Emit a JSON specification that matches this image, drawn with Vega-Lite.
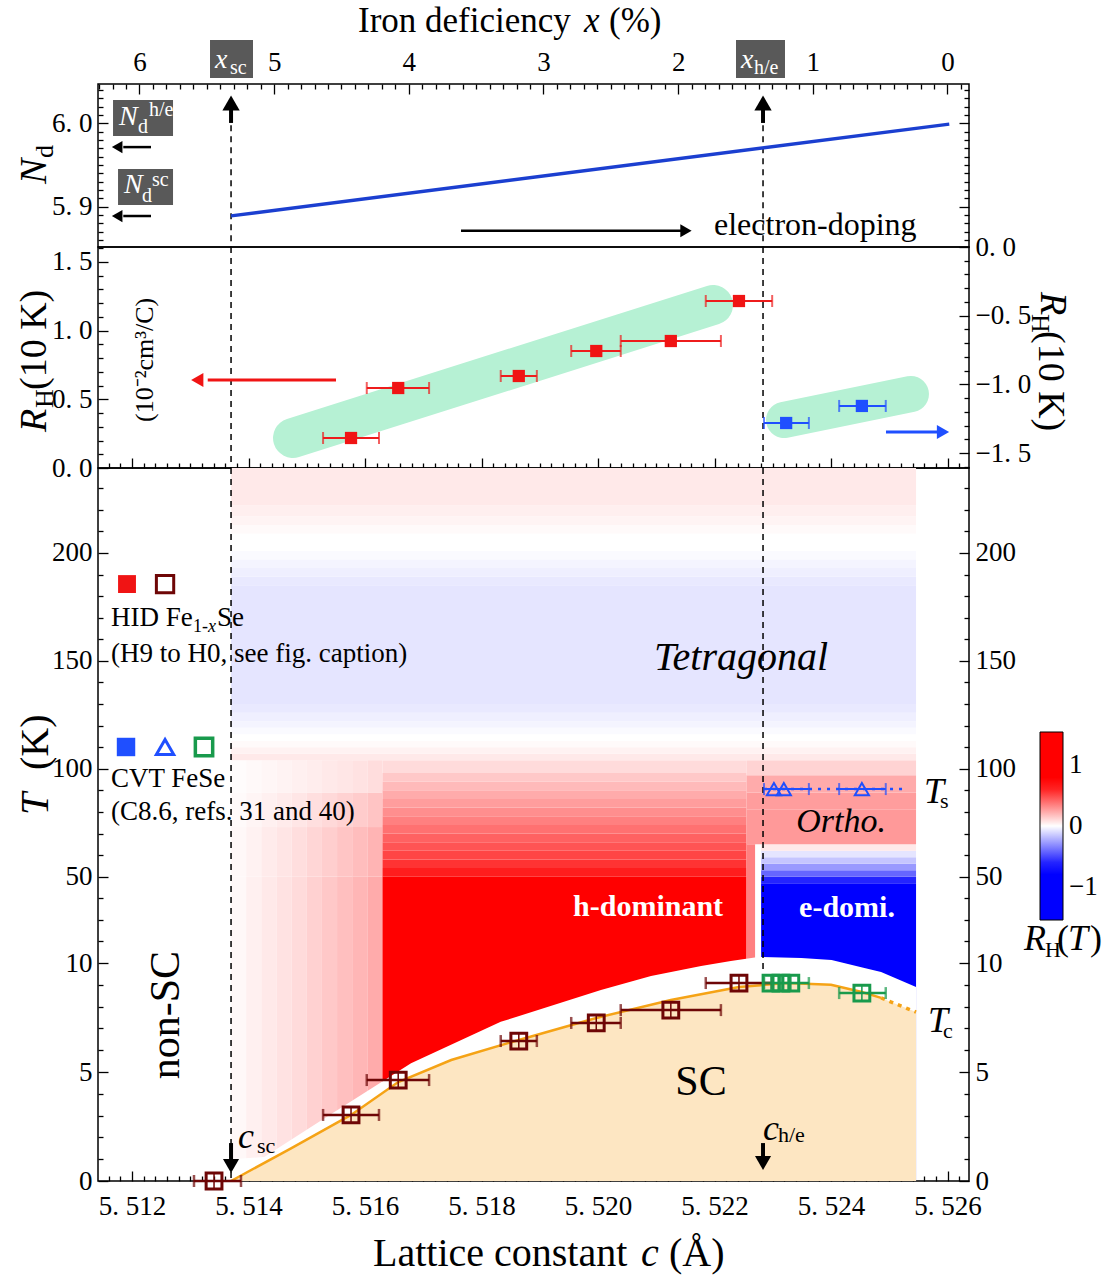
{
"$schema": "https://vega.github.io/schema/vega-lite/v6.json",
"background": "white",
"padding": {"left": 15, "top": 3, "right": 0, "bottom": 0},
"spacing": 0,
"bounds": "flush",
"config": {
  "view": {"stroke": "black", "strokeWidth": 1.5},
  "font": "Liberation Serif",
  "axis": {"domain": false, "grid": false, "labelFont": "Liberation Serif", "labelFontSize": 27, "labelColor": "black", "tickColor": "black", "tickWidth": 1.3, "labelOverlap": false, "labelBound": false, "labelFlush": false, "zindex": 1},
  "legend": {"gradientLength": 188, "gradientThickness": 23, "labelFontSize": 27, "labelFont": "Liberation Serif", "labelColor": "black", "gradientStrokeColor": "black", "gradientStrokeWidth": 1},
  "text": {"font": "Liberation Serif", "color": "black"}
},
"datasets": {
  "p1box": [{"c":5.511674,"c2":5.512704,"y":6.02794,"y2":5.98477},{"c":5.51176,"c2":5.512704,"y":5.9452,"y2":5.90204},{"c":5.513339,"c2":5.514077,"y":6.09988,"y2":6.05432},{"c":5.522369,"c2":5.52321,"y":6.09988,"y2":6.05432}],
  "p2red": [{"c":5.51576,"lo":5.51528,"hi":5.51624,"r":0.2182},{"c":5.51657,"lo":5.51603,"hi":5.5171,"r":0.5818},{"c":5.51864,"lo":5.51833,"hi":5.51895,"r":0.6691},{"c":5.51997,"lo":5.51954,"hi":5.52039,"r":0.8509},{"c":5.52125,"lo":5.52039,"hi":5.52211,"r":0.9236},{"c":5.52242,"lo":5.52185,"hi":5.52299,"r":1.2145}],
  "p2blue": [{"c":5.52323,"lo":5.52285,"hi":5.52362,"r":-1.28},{"c":5.52453,"lo":5.52414,"hi":5.52494,"r":-1.156}],
  "hm": [
    {"c":5.5137,"c2":5.51396,"t":0,"t2":50,"v":0.02},{"c":5.51396,"c2":5.51422,"t":0,"t2":50,"v":0.04},{"c":5.51422,"c2":5.51448,"t":0,"t2":50,"v":0.06},{"c":5.51448,"c2":5.51474,"t":0,"t2":50,"v":0.08},{"c":5.51474,"c2":5.515,"t":0,"t2":50,"v":0.1},{"c":5.515,"c2":5.51526,"t":0,"t2":50,"v":0.125},{"c":5.51526,"c2":5.51552,"t":0,"t2":50,"v":0.15},{"c":5.51552,"c2":5.51578,"t":0,"t2":50,"v":0.175},{"c":5.51578,"c2":5.51604,"t":0,"t2":50,"v":0.2},{"c":5.51604,"c2":5.5163,"t":0,"t2":50,"v":0.23},
    {"c":5.5137,"c2":5.51396,"t":50,"t2":73,"v":0.018},{"c":5.51396,"c2":5.51422,"t":50,"t2":73,"v":0.036},{"c":5.51422,"c2":5.51448,"t":50,"t2":73,"v":0.054},{"c":5.51448,"c2":5.51474,"t":50,"t2":73,"v":0.072},{"c":5.51474,"c2":5.515,"t":50,"t2":73,"v":0.09},{"c":5.515,"c2":5.51526,"t":50,"t2":73,"v":0.113},{"c":5.51526,"c2":5.51552,"t":50,"t2":73,"v":0.135},{"c":5.51552,"c2":5.51578,"t":50,"t2":73,"v":0.158},{"c":5.51578,"c2":5.51604,"t":50,"t2":73,"v":0.18},{"c":5.51604,"c2":5.5163,"t":50,"t2":73,"v":0.207},
    {"c":5.5137,"c2":5.51396,"t":73,"t2":89,"v":0.014},{"c":5.51396,"c2":5.51422,"t":73,"t2":89,"v":0.028},{"c":5.51422,"c2":5.51448,"t":73,"t2":89,"v":0.042},{"c":5.51448,"c2":5.51474,"t":73,"t2":89,"v":0.056},{"c":5.51474,"c2":5.515,"t":73,"t2":89,"v":0.07},{"c":5.515,"c2":5.51526,"t":73,"t2":89,"v":0.088},{"c":5.51526,"c2":5.51552,"t":73,"t2":89,"v":0.105},{"c":5.51552,"c2":5.51578,"t":73,"t2":89,"v":0.123},{"c":5.51578,"c2":5.51604,"t":73,"t2":89,"v":0.14},{"c":5.51604,"c2":5.5163,"t":73,"t2":89,"v":0.161},
    {"c":5.5137,"c2":5.51396,"t":89,"t2":104,"v":0.008},{"c":5.51396,"c2":5.51422,"t":89,"t2":104,"v":0.016},{"c":5.51422,"c2":5.51448,"t":89,"t2":104,"v":0.024},{"c":5.51448,"c2":5.51474,"t":89,"t2":104,"v":0.032},{"c":5.51474,"c2":5.515,"t":89,"t2":104,"v":0.04},{"c":5.515,"c2":5.51526,"t":89,"t2":104,"v":0.05},{"c":5.51526,"c2":5.51552,"t":89,"t2":104,"v":0.06},{"c":5.51552,"c2":5.51578,"t":89,"t2":104,"v":0.07},{"c":5.51578,"c2":5.51604,"t":89,"t2":104,"v":0.08},{"c":5.51604,"c2":5.5163,"t":89,"t2":104,"v":0.092},
    {"c":5.5163,"c2":5.52255,"t":0,"t2":50,"v":1.0},{"c":5.5163,"c2":5.52255,"t":50,"t2":54,"v":0.62},{"c":5.5163,"c2":5.52255,"t":54,"t2":58,"v":0.56},{"c":5.5163,"c2":5.52255,"t":58,"t2":62,"v":0.51},{"c":5.5163,"c2":5.52255,"t":62,"t2":66,"v":0.47},{"c":5.5163,"c2":5.52255,"t":66,"t2":70,"v":0.43},{"c":5.5163,"c2":5.52255,"t":70,"t2":74,"v":0.39},{"c":5.5163,"c2":5.52255,"t":74,"t2":78,"v":0.35},{"c":5.5163,"c2":5.52255,"t":78,"t2":82,"v":0.31},{"c":5.5163,"c2":5.52255,"t":82,"t2":86,"v":0.27},{"c":5.5163,"c2":5.52255,"t":86,"t2":90,"v":0.23},{"c":5.5163,"c2":5.52255,"t":90,"t2":94,"v":0.19},{"c":5.5163,"c2":5.52255,"t":94,"t2":98,"v":0.15},{"c":5.5163,"c2":5.52255,"t":98,"t2":104,"v":0.1},
    {"c":5.52255,"c2":5.5227,"t":0,"t2":65,"v":0.35},
    {"c":5.5227,"c2":5.5228,"t":0,"t2":65,"v":0.0},
    {"c":5.5228,"c2":5.52546,"t":0,"t2":47,"v":-1.5},{"c":5.5228,"c2":5.52546,"t":47,"t2":50,"v":-0.6},{"c":5.5228,"c2":5.52546,"t":50,"t2":53,"v":-0.42},{"c":5.5228,"c2":5.52546,"t":53,"t2":56,"v":-0.28},{"c":5.5228,"c2":5.52546,"t":56,"t2":59,"v":-0.16},{"c":5.5228,"c2":5.52546,"t":59,"t2":62,"v":-0.07},{"c":5.5228,"c2":5.52546,"t":62,"t2":65,"v":0.06},
    {"c":5.52255,"c2":5.52546,"t":65,"t2":73,"v":0.28},{"c":5.52255,"c2":5.52546,"t":73,"t2":81,"v":0.28},{"c":5.52255,"c2":5.52546,"t":81,"t2":89,"v":0.27},{"c":5.52255,"c2":5.52546,"t":89,"t2":97,"v":0.23},{"c":5.52255,"c2":5.52546,"t":97,"t2":104,"v":0.12},
    {"c":5.5137,"c2":5.52546,"t":104,"t2":107,"v":0.06},{"c":5.5137,"c2":5.52546,"t":107,"t2":110,"v":0.035},{"c":5.5137,"c2":5.52546,"t":110,"t2":113,"v":0.015},{"c":5.5137,"c2":5.52546,"t":113,"t2":116,"v":0.0},{"c":5.5137,"c2":5.52546,"t":116,"t2":119,"v":-0.015},{"c":5.5137,"c2":5.52546,"t":119,"t2":122,"v":-0.03},{"c":5.5137,"c2":5.52546,"t":122,"t2":126,"v":-0.045},{"c":5.5137,"c2":5.52546,"t":126,"t2":130,"v":-0.06},{"c":5.5137,"c2":5.52546,"t":130,"t2":185,"v":-0.07},{"c":5.5137,"c2":5.52546,"t":185,"t2":189,"v":-0.06},{"c":5.5137,"c2":5.52546,"t":189,"t2":193,"v":-0.045},{"c":5.5137,"c2":5.52546,"t":193,"t2":197,"v":-0.03},{"c":5.5137,"c2":5.52546,"t":197,"t2":201,"v":-0.015},{"c":5.5137,"c2":5.52546,"t":201,"t2":209,"v":0.0},{"c":5.5137,"c2":5.52546,"t":209,"t2":213,"v":0.015},{"c":5.5137,"c2":5.52546,"t":213,"t2":217,"v":0.03},{"c":5.5137,"c2":5.52546,"t":217,"t2":222,"v":0.045},{"c":5.5137,"c2":5.52546,"t":222,"t2":239.38,"v":0.06}
  ],
  "tb": [{"c":5.5137,"t":1.0},{"c":5.51427,"t":1.1},{"c":5.51542,"t":3.07},{"c":5.51679,"t":5.4},{"c":5.51833,"t":7.3},{"c":5.52005,"t":8.76},{"c":5.52091,"t":9.4},{"c":5.52177,"t":9.86},{"c":5.52228,"t":10.9},{"c":5.52275,"t":12.8},{"c":5.52349,"t":12.3},{"c":5.52401,"t":11.4},{"c":5.52452,"t":9.8},{"c":5.52486,"t":9.59},{"c":5.52546,"t":8.9}],
  "tc": [{"c":5.5137,"t":0},{"c":5.51473,"t":1.5},{"c":5.51576,"t":3.03},{"c":5.51657,"t":4.54},{"c":5.51748,"t":5.55},{"c":5.51864,"t":6.47},{"c":5.51997,"t":7.48},{"c":5.52125,"t":8.3},{"c":5.52242,"t":8.9},{"c":5.52323,"t":9.08},{"c":5.524,"t":9.0},{"c":5.52453,"t":8.67},{"c":5.52486,"t":8.4},{"c":5.52546,"t":7.75}],
  "hid": [{"c":5.513408,"lo":5.513064,"hi":5.513871,"t":0},{"c":5.51576,"lo":5.51528,"hi":5.51624,"t":3.03},{"c":5.51657,"lo":5.51603,"hi":5.5171,"t":4.63},{"c":5.51864,"lo":5.51833,"hi":5.51895,"t":6.42},{"c":5.51997,"lo":5.51954,"hi":5.52039,"t":7.25},{"c":5.52125,"lo":5.52039,"hi":5.52211,"t":7.84},{"c":5.52242,"lo":5.52185,"hi":5.52299,"t":9.08}],
  "greenbar": [{"lo":5.52285,"hi":5.52362,"t":9.08},{"lo":5.52414,"hi":5.52494,"t":8.62}],
  "greenpt": [{"c":5.52297,"t":9.08},{"c":5.52314,"t":9.08},{"c":5.52331,"t":9.08},{"c":5.52453,"t":8.62}],
  "tsbar": [{"lo":5.52285,"hi":5.52362,"t":90.6},{"lo":5.52414,"hi":5.52494,"t":90.6}],
  "tspt": [{"c":5.52302,"t":90.6},{"c":5.52319,"t":90.6},{"c":5.52453,"t":90.6}]
},
"vconcat": [
{
  "width": 871, "height": 163,
  "layer": [
    {"data": {"name": "p1box"}, "mark": {"type": "rect", "fill": "#595959", "clip": false},
     "encoding": {"x": {"field": "c", "type": "quantitative", "scale": {"domain": [5.511416, 5.526369], "nice": false, "zero": false}, "axis": null}, "x2": {"field": "c2"},
       "y": {"field": "y", "type": "quantitative", "scale": {"domain": [5.8517, 6.0471], "nice": false, "zero": false},
         "axis": {"orient": "left", "values": [5.86,5.87,5.88,5.89,5.9,5.91,5.92,5.93,5.94,5.95,5.96,5.97,5.98,5.99,6,6.01,6.02,6.03,6.04], "labelExpr": "abs(datum.value*10-round(datum.value*10))<0.01 ? replace(format(datum.value,'.1f'),'.','. ') : ''", "tickSize": {"condition": {"test": "abs(datum.value*10-round(datum.value*10))<0.01", "value": -10}, "value": -5}, "labelPadding": 16, "title": null}},
       "y2": {"field": "y2"}}},
    {"data": {"values": [{"c":5.5137,"y":5.9978,"y2":5.8517},{"c":5.522833,"y":5.9978,"y2":5.8517}]}, "mark": {"type": "rule", "strokeDash": [6,5], "strokeWidth": 1.5, "color": "black"},
     "encoding": {"x": {"field": "c", "type": "quantitative", "scale": {"domain": [5.511416, 5.526369], "nice": false, "zero": false}, "axis": null}, "y": {"field": "y", "type": "quantitative", "scale": {"domain": [5.8517, 6.0471], "nice": false, "zero": false}, "axis": null}, "y2": {"field": "y2"}}},
    {"data": {"values": [{"c":5.5137,"y":5.889},{"c":5.52603,"y":5.999}]}, "mark": {"type": "line", "color": "#1b3fd0", "strokeWidth": 3.5},
     "encoding": {"x": {"field": "c", "type": "quantitative", "scale": {"domain": [5.511416, 5.526369], "nice": false, "zero": false}, "axis": null}, "y": {"field": "y", "type": "quantitative", "scale": {"domain": [5.8517, 6.0471], "nice": false, "zero": false}, "axis": null}}},
    {"data": {"values": [{"c":5.5137,"y":6.0004,"y2":6.0184},{"c":5.522833,"y":6.0004,"y2":6.0184}]}, "mark": {"type": "rule", "strokeWidth": 4, "color": "black"},
     "encoding": {"x": {"field": "c", "type": "quantitative", "scale": {"domain": [5.511416, 5.526369], "nice": false, "zero": false}, "axis": null}, "y": {"field": "y", "type": "quantitative", "scale": {"domain": [5.8517, 6.0471], "nice": false, "zero": false}, "axis": null}, "y2": {"field": "y2"}}},
    {"data": {"values": [{"c":5.5137,"y":6.0242},{"c":5.522833,"y":6.0242}]}, "mark": {"type": "point", "shape": "triangle-up", "filled": true, "opacity": 1, "color": "black", "size": 300},
     "encoding": {"x": {"field": "c", "type": "quantitative", "scale": {"domain": [5.511416, 5.526369], "nice": false, "zero": false}, "axis": null}, "y": {"field": "y", "type": "quantitative", "scale": {"domain": [5.8517, 6.0471], "nice": false, "zero": false}, "axis": null}}},
    {"data": {"values": [{"c":5.512326,"c2":5.51185,"y":5.97146},{"c":5.512326,"c2":5.51185,"y":5.88885},{"c":5.517648,"c2":5.521425,"y":5.87122}]}, "mark": {"type": "rule", "strokeWidth": 2.5, "color": "black"},
     "encoding": {"x": {"field": "c", "type": "quantitative", "scale": {"domain": [5.511416, 5.526369], "nice": false, "zero": false}, "axis": null}, "x2": {"field": "c2"}, "y": {"field": "y", "type": "quantitative", "scale": {"domain": [5.8517, 6.0471], "nice": false, "zero": false}, "axis": null}}},
    {"data": {"values": [{"c":5.511745,"y":5.97146},{"c":5.511745,"y":5.88885}]}, "mark": {"type": "point", "shape": "triangle-left", "filled": true, "opacity": 1, "color": "black", "size": 150},
     "encoding": {"x": {"field": "c", "type": "quantitative", "scale": {"domain": [5.511416, 5.526369], "nice": false, "zero": false}, "axis": null}, "y": {"field": "y", "type": "quantitative", "scale": {"domain": [5.8517, 6.0471], "nice": false, "zero": false}, "axis": null}}},
    {"data": {"values": [{"c":5.52151,"y":5.87122}]}, "mark": {"type": "point", "shape": "triangle-right", "filled": true, "opacity": 1, "color": "black", "size": 170},
     "encoding": {"x": {"field": "c", "type": "quantitative", "scale": {"domain": [5.511416, 5.526369], "nice": false, "zero": false}, "axis": null}, "y": {"field": "y", "type": "quantitative", "scale": {"domain": [5.8517, 6.0471], "nice": false, "zero": false}, "axis": null}}},
    {"data": {"values": [{"c":5.51588,"y":6.10947,"s":"Iron deficiency"},{"c":5.520189,"y":6.10947,"s":"(%)"}]}, "mark": {"type": "text", "align": "left", "baseline": "alphabetic", "fontSize": 35, "clip": false},
     "encoding": {"x": {"field": "c", "type": "quantitative", "scale": {"domain": [5.511416, 5.526369], "nice": false, "zero": false}, "axis": null}, "y": {"field": "y", "type": "quantitative", "scale": {"domain": [5.8517, 6.0471], "nice": false, "zero": false}, "axis": null}, "text": {"field": "s"}}},
    {"data": {"values": [{"c":5.51976,"y":6.10947,"s":"x"}]}, "mark": {"type": "text", "align": "left", "baseline": "alphabetic", "fontSize": 35, "fontStyle": "italic", "clip": false},
     "encoding": {"x": {"field": "c", "type": "quantitative", "scale": {"domain": [5.511416, 5.526369], "nice": false, "zero": false}, "axis": null}, "y": {"field": "y", "type": "quantitative", "scale": {"domain": [5.8517, 6.0471], "nice": false, "zero": false}, "axis": null}, "text": {"field": "s"}}},
    {"data": {"values": [{"c":5.511777,"y":5.99796,"s":"N"},{"c":5.511863,"y":5.91643,"s":"N"},{"c":5.513425,"y":6.06631,"s":"x"},{"c":5.522455,"y":6.06631,"s":"x"}]}, "mark": {"type": "text", "align": "left", "baseline": "alphabetic", "fontSize": 28, "fontStyle": "italic", "color": "white", "clip": false},
     "encoding": {"x": {"field": "c", "type": "quantitative", "scale": {"domain": [5.511416, 5.526369], "nice": false, "zero": false}, "axis": null}, "y": {"field": "y", "type": "quantitative", "scale": {"domain": [5.8517, 6.0471], "nice": false, "zero": false}, "axis": null}, "text": {"field": "s"}}},
    {"data": {"values": [{"c":5.512103,"y":5.98837,"s":"d"},{"c":5.512292,"y":6.00875,"s":"h/e"},{"c":5.512172,"y":5.90564,"s":"d"},{"c":5.512343,"y":5.92482,"s":"sc"},{"c":5.513682,"y":6.05911,"s":"sc"},{"c":5.522678,"y":6.05911,"s":"h/e"}]}, "mark": {"type": "text", "align": "left", "baseline": "alphabetic", "fontSize": 20, "color": "white", "clip": false},
     "encoding": {"x": {"field": "c", "type": "quantitative", "scale": {"domain": [5.511416, 5.526369], "nice": false, "zero": false}, "axis": null}, "y": {"field": "y", "type": "quantitative", "scale": {"domain": [5.8517, 6.0471], "nice": false, "zero": false}, "axis": null}, "text": {"field": "s"}}},
    {"data": {"values": [{"c":5.521991,"y":5.86607,"s":"electron-doping"}]}, "mark": {"type": "text", "align": "left", "baseline": "alphabetic", "fontSize": 32, "clip": false},
     "encoding": {"x": {"field": "c", "type": "quantitative", "scale": {"domain": [5.511416, 5.526369], "nice": false, "zero": false}, "axis": null}, "y": {"field": "y", "type": "quantitative", "scale": {"domain": [5.8517, 6.0471], "nice": false, "zero": false}, "axis": null}, "text": {"field": "s"}}},
    {"data": {"values": [{"c":5.510524,"y":5.92722,"s":"N"}]}, "mark": {"type": "text", "align": "left", "baseline": "alphabetic", "angle": 270, "fontSize": 38, "fontStyle": "italic", "clip": false},
     "encoding": {"x": {"field": "c", "type": "quantitative", "scale": {"domain": [5.511416, 5.526369], "nice": false, "zero": false}, "axis": null}, "y": {"field": "y", "type": "quantitative", "scale": {"domain": [5.8517, 6.0471], "nice": false, "zero": false}, "axis": null}, "text": {"field": "s"}}},
    {"data": {"values": [{"c":5.510644,"y":5.9584,"s":"d"}]}, "mark": {"type": "text", "align": "left", "baseline": "alphabetic", "angle": 270, "fontSize": 26, "clip": false},
     "encoding": {"x": {"field": "c", "type": "quantitative", "scale": {"domain": [5.511416, 5.526369], "nice": false, "zero": false}, "axis": null}, "y": {"field": "y", "type": "quantitative", "scale": {"domain": [5.8517, 6.0471], "nice": false, "zero": false}, "axis": null}, "text": {"field": "s"}}},
    {"data": {"values": [{"y": 6.0}]}, "mark": {"type": "text", "text": ""},
     "encoding": {"y": {"field": "y", "type": "quantitative", "scale": {"domain": [5.8517, 6.0471], "nice": false, "zero": false},
       "axis": {"orient": "right", "values": [5.86,5.87,5.88,5.89,5.9,5.91,5.92,5.93,5.94,5.95,5.96,5.97,5.98,5.99,6,6.01,6.02,6.03,6.04], "labels": false, "tickSize": {"condition": {"test": "abs(datum.value*10-round(datum.value*10))<0.01", "value": -10}, "value": -5}, "title": null}}}},
    {"data": {"values": [{"p": 0}]}, "mark": {"type": "text", "text": ""},
     "encoding": {"x": {"field": "p", "type": "quantitative", "scale": {"domain": [6.308, -0.16], "nice": false, "zero": false},
       "axis": {"orient": "top", "tickCount": 65, "labelExpr": "abs(datum.value-round(datum.value))<0.01 ? format(round(datum.value),'d') : ''", "tickSize": {"condition": {"test": "abs(datum.value-round(datum.value))<0.01", "value": -10}, "value": -5}, "labelPadding": 18, "title": null}}}}
  ],
  "resolve": {"scale": {"x": "independent"}, "axis": {"x": "independent", "y": "independent"}}
},
{
  "width": 871, "height": 221,
  "layer": [
    {"data": {"values": [{"c":5.514764,"r":0.2182},{"c":5.521974,"r":1.1855}]}, "mark": {"type": "line", "color": "#b6f1d4", "strokeWidth": 40, "strokeCap": "round"},
     "encoding": {"x": {"field": "c", "type": "quantitative", "scale": {"domain": [5.511416, 5.526369], "nice": false, "zero": false},
         "axis": {"orient": "bottom", "tickCount": 75, "labels": false, "tickSize": {"condition": {"test": "abs(datum.value*500-round(datum.value*500))<0.01", "value": -10}, "value": -5}, "title": null}},
       "y": {"field": "r", "type": "quantitative", "scale": {"domain": [0, 1.6073], "nice": false, "zero": false},
         "axis": {"orient": "left", "values": [0,0.1,0.2,0.3,0.4,0.5,0.6,0.7,0.8,0.9,1,1.1,1.2,1.3,1.4,1.5,1.6], "labelExpr": "abs(datum.value*2-round(datum.value*2))<0.01 ? replace(format(datum.value,'.1f'),'.','. ') : ''", "tickSize": {"condition": {"test": "abs(datum.value*2-round(datum.value*2))<0.01", "value": -10}, "value": -5}, "labelPadding": 16, "title": null}}}},
    {"data": {"values": [{"c":5.5137},{"c":5.522833}]}, "mark": {"type": "rule", "strokeDash": [6,5], "strokeWidth": 1.5, "color": "black"},
     "encoding": {"x": {"field": "c", "type": "quantitative", "scale": {"domain": [5.511416, 5.526369], "nice": false, "zero": false}, "axis": null}}},
    {"data": {"name": "p2red"}, "mark": {"type": "rule", "color": "#ee1c1c", "strokeWidth": 2},
     "encoding": {"x": {"field": "lo", "type": "quantitative", "scale": {"domain": [5.511416, 5.526369], "nice": false, "zero": false}, "axis": null}, "x2": {"field": "hi"}, "y": {"field": "r", "type": "quantitative", "scale": {"domain": [0, 1.6073], "nice": false, "zero": false}, "axis": null}}},
    {"data": {"name": "p2red"}, "mark": {"type": "tick", "orient": "vertical", "size": 12, "thickness": 2, "color": "#ee1c1c"},
     "encoding": {"x": {"field": "lo", "type": "quantitative", "scale": {"domain": [5.511416, 5.526369], "nice": false, "zero": false}, "axis": null}, "y": {"field": "r", "type": "quantitative", "scale": {"domain": [0, 1.6073], "nice": false, "zero": false}, "axis": null}}},
    {"data": {"name": "p2red"}, "mark": {"type": "tick", "orient": "vertical", "size": 12, "thickness": 2, "color": "#ee1c1c"},
     "encoding": {"x": {"field": "hi", "type": "quantitative", "scale": {"domain": [5.511416, 5.526369], "nice": false, "zero": false}, "axis": null}, "y": {"field": "r", "type": "quantitative", "scale": {"domain": [0, 1.6073], "nice": false, "zero": false}, "axis": null}}},
    {"data": {"name": "p2red"}, "mark": {"type": "point", "shape": "square", "filled": true, "opacity": 1, "color": "#f01414", "size": 150},
     "encoding": {"x": {"field": "c", "type": "quantitative", "scale": {"domain": [5.511416, 5.526369], "nice": false, "zero": false}, "axis": null}, "y": {"field": "r", "type": "quantitative", "scale": {"domain": [0, 1.6073], "nice": false, "zero": false}, "axis": null}}},
    {"data": {"values": [{"c":5.515502,"c2":5.5133,"r":0.64}]}, "mark": {"type": "rule", "color": "#f01414", "strokeWidth": 3},
     "encoding": {"x": {"field": "c", "type": "quantitative", "scale": {"domain": [5.511416, 5.526369], "nice": false, "zero": false}, "axis": null}, "x2": {"field": "c2"}, "y": {"field": "r", "type": "quantitative", "scale": {"domain": [0, 1.6073], "nice": false, "zero": false}, "axis": null}}},
    {"data": {"values": [{"c":5.51312,"r":0.64}]}, "mark": {"type": "point", "shape": "triangle-left", "filled": true, "opacity": 1, "color": "#f01414", "size": 200},
     "encoding": {"x": {"field": "c", "type": "quantitative", "scale": {"domain": [5.511416, 5.526369], "nice": false, "zero": false}, "axis": null}, "y": {"field": "r", "type": "quantitative", "scale": {"domain": [0, 1.6073], "nice": false, "zero": false}, "axis": null}}},
    {"data": {"values": [{"c":5.512361,"r":0.3345,"s":"(10⁻²cm³/C)"}]}, "mark": {"type": "text", "align": "left", "baseline": "alphabetic", "angle": 270, "fontSize": 26, "clip": false},
     "encoding": {"x": {"field": "c", "type": "quantitative", "scale": {"domain": [5.511416, 5.526369], "nice": false, "zero": false}, "axis": null}, "y": {"field": "r", "type": "quantitative", "scale": {"domain": [0, 1.6073], "nice": false, "zero": false}, "axis": null}, "text": {"field": "s"}}},
    {"data": {"values": [{"c":5.510524,"r":0.2618,"s":"R"}]}, "mark": {"type": "text", "align": "left", "baseline": "alphabetic", "angle": 270, "fontSize": 38, "fontStyle": "italic", "clip": false},
     "encoding": {"x": {"field": "c", "type": "quantitative", "scale": {"domain": [5.511416, 5.526369], "nice": false, "zero": false}, "axis": null}, "y": {"field": "r", "type": "quantitative", "scale": {"domain": [0, 1.6073], "nice": false, "zero": false}, "axis": null}, "text": {"field": "s"}}},
    {"data": {"values": [{"c":5.510644,"r":0.4364,"s":"H"}]}, "mark": {"type": "text", "align": "left", "baseline": "alphabetic", "angle": 270, "fontSize": 26, "clip": false},
     "encoding": {"x": {"field": "c", "type": "quantitative", "scale": {"domain": [5.511416, 5.526369], "nice": false, "zero": false}, "axis": null}, "y": {"field": "r", "type": "quantitative", "scale": {"domain": [0, 1.6073], "nice": false, "zero": false}, "axis": null}, "text": {"field": "s"}}},
    {"data": {"values": [{"c":5.510524,"r":0.5673,"s":"(10 K)"}]}, "mark": {"type": "text", "align": "left", "baseline": "alphabetic", "angle": 270, "fontSize": 38, "clip": false},
     "encoding": {"x": {"field": "c", "type": "quantitative", "scale": {"domain": [5.511416, 5.526369], "nice": false, "zero": false}, "axis": null}, "y": {"field": "r", "type": "quantitative", "scale": {"domain": [0, 1.6073], "nice": false, "zero": false}, "axis": null}, "text": {"field": "s"}}},
    {"data": {"values": [{"c":5.523193,"r":-1.2582},{"c":5.525373,"r":-1.0691}]}, "mark": {"type": "line", "color": "#b6f1d4", "strokeWidth": 36, "strokeCap": "round"},
     "encoding": {"x": {"field": "c", "type": "quantitative", "scale": {"domain": [5.511416, 5.526369], "nice": false, "zero": false}, "axis": null}, "y": {"field": "r", "type": "quantitative", "scale": {"domain": [-1.6073, 0], "nice": false, "zero": false}, "axis": null}}},
    {"data": {"name": "p2blue"}, "mark": {"type": "rule", "color": "#1f4fff", "strokeWidth": 2},
     "encoding": {"x": {"field": "lo", "type": "quantitative", "scale": {"domain": [5.511416, 5.526369], "nice": false, "zero": false}, "axis": null}, "x2": {"field": "hi"}, "y": {"field": "r", "type": "quantitative", "scale": {"domain": [-1.6073, 0], "nice": false, "zero": false}, "axis": null}}},
    {"data": {"name": "p2blue"}, "mark": {"type": "tick", "orient": "vertical", "size": 12, "thickness": 2, "color": "#1f4fff"},
     "encoding": {"x": {"field": "lo", "type": "quantitative", "scale": {"domain": [5.511416, 5.526369], "nice": false, "zero": false}, "axis": null}, "y": {"field": "r", "type": "quantitative", "scale": {"domain": [-1.6073, 0], "nice": false, "zero": false}, "axis": null}}},
    {"data": {"name": "p2blue"}, "mark": {"type": "tick", "orient": "vertical", "size": 12, "thickness": 2, "color": "#1f4fff"},
     "encoding": {"x": {"field": "hi", "type": "quantitative", "scale": {"domain": [5.511416, 5.526369], "nice": false, "zero": false}, "axis": null}, "y": {"field": "r", "type": "quantitative", "scale": {"domain": [-1.6073, 0], "nice": false, "zero": false}, "axis": null}}},
    {"data": {"name": "p2blue"}, "mark": {"type": "point", "shape": "square", "filled": true, "opacity": 1, "color": "#1f4fff", "size": 150},
     "encoding": {"x": {"field": "c", "type": "quantitative", "scale": {"domain": [5.511416, 5.526369], "nice": false, "zero": false}, "axis": null},
       "y": {"field": "r", "type": "quantitative", "scale": {"domain": [-1.6073, 0], "nice": false, "zero": false},
         "axis": {"orient": "right", "values": [-1.6,-1.5,-1.4,-1.3,-1.2,-1.1,-1,-0.9,-0.8,-0.7,-0.6,-0.5,-0.4,-0.3,-0.2,-0.1,0], "labelExpr": "abs(datum.value*2-round(datum.value*2))<0.01 ? replace(format(datum.value,'.1f'),'.','. ') : ''", "tickSize": {"condition": {"test": "abs(datum.value*2-round(datum.value*2))<0.01", "value": -10}, "value": -5}, "labelPadding": 16, "title": null}}}},
    {"data": {"values": [{"c":5.524944,"c2":5.525854,"r":-1.3455}]}, "mark": {"type": "rule", "color": "#1f4fff", "strokeWidth": 3},
     "encoding": {"x": {"field": "c", "type": "quantitative", "scale": {"domain": [5.511416, 5.526369], "nice": false, "zero": false}, "axis": null}, "x2": {"field": "c2"}, "y": {"field": "r", "type": "quantitative", "scale": {"domain": [-1.6073, 0], "nice": false, "zero": false}, "axis": null}}},
    {"data": {"values": [{"c":5.525923,"r":-1.3455}]}, "mark": {"type": "point", "shape": "triangle-right", "filled": true, "opacity": 1, "color": "#1f4fff", "size": 200},
     "encoding": {"x": {"field": "c", "type": "quantitative", "scale": {"domain": [5.511416, 5.526369], "nice": false, "zero": false}, "axis": null}, "y": {"field": "r", "type": "quantitative", "scale": {"domain": [-1.6073, 0], "nice": false, "zero": false}, "axis": null}}},
    {"data": {"values": [{"c":5.527605,"r":-0.3273,"s":"R"}]}, "mark": {"type": "text", "align": "left", "baseline": "alphabetic", "angle": 90, "fontSize": 38, "fontStyle": "italic", "clip": false},
     "encoding": {"x": {"field": "c", "type": "quantitative", "scale": {"domain": [5.511416, 5.526369], "nice": false, "zero": false}, "axis": null}, "y": {"field": "r", "type": "quantitative", "scale": {"domain": [-1.6073, 0], "nice": false, "zero": false}, "axis": null}, "text": {"field": "s"}}},
    {"data": {"values": [{"c":5.527451,"r":-0.4873,"s":"H"}]}, "mark": {"type": "text", "align": "left", "baseline": "alphabetic", "angle": 90, "fontSize": 26, "clip": false},
     "encoding": {"x": {"field": "c", "type": "quantitative", "scale": {"domain": [5.511416, 5.526369], "nice": false, "zero": false}, "axis": null}, "y": {"field": "r", "type": "quantitative", "scale": {"domain": [-1.6073, 0], "nice": false, "zero": false}, "axis": null}, "text": {"field": "s"}}},
    {"data": {"values": [{"c":5.527571,"r":-0.6109,"s":"(10 K)"}]}, "mark": {"type": "text", "align": "left", "baseline": "alphabetic", "angle": 90, "fontSize": 38, "clip": false},
     "encoding": {"x": {"field": "c", "type": "quantitative", "scale": {"domain": [5.511416, 5.526369], "nice": false, "zero": false}, "axis": null}, "y": {"field": "r", "type": "quantitative", "scale": {"domain": [-1.6073, 0], "nice": false, "zero": false}, "axis": null}, "text": {"field": "s"}}}
  ],
  "resolve": {"scale": {"y": "independent"}, "axis": {"x": "independent", "y": "independent"}}
},
{
  "width": 871, "height": 713,
  "layer": [
    {"data": {"name": "hm"}, "mark": {"type": "rect"},
     "encoding": {"x": {"field": "c", "type": "quantitative", "scale": {"domain": [5.511416, 5.526369], "nice": false, "zero": false},
         "axis": {"orient": "bottom", "tickCount": 75, "labelExpr": "abs(datum.value*500-round(datum.value*500))<0.01 ? replace(format(datum.value,'.3f'),'.','. ') : ''", "tickSize": {"condition": {"test": "abs(datum.value*500-round(datum.value*500))<0.01", "value": -10}, "value": -5}, "labelPadding": 22, "title": null}},
       "x2": {"field": "c2"},
       "y": {"field": "t", "type": "quantitative", "scale": {"domain": [0, 10, 239.38], "range": [713, 495, 0], "nice": false, "zero": false},
         "axis": {"orient": "left", "values": [0,1,2,3,4,5,6,7,8,9,10,20,30,40,50,60,70,80,90,100,110,120,130,140,150,160,170,180,190,200,210,220,230], "labelExpr": "indexof([0,5,10,50,100,150,200], datum.value) >= 0 ? datum.label : ''", "tickSize": {"condition": {"test": "indexof([0,5,10,50,100,150,200], datum.value) >= 0", "value": -10}, "value": -5}, "labelPadding": 16, "title": null}},
       "y2": {"field": "t2"},
       "color": {"field": "v", "type": "quantitative", "scale": {"type": "linear", "domain": [-1.55, -0.7, 0, 0.7, 1.55], "range": ["#0000ff", "#0000ff", "#ffffff", "#ff0000", "#ff0000"], "interpolate": "rgb", "zero": false, "nice": false},
         "legend": {"orient": "none", "legendX": 942, "legendY": 648, "direction": "vertical", "title": null, "values": [-1, 0, 1], "labelOffset": 6}}}},
    {"data": {"name": "tb"}, "mark": {"type": "area", "color": "white", "opacity": 1},
     "encoding": {"x": {"field": "c", "type": "quantitative", "scale": {"domain": [5.511416, 5.526369], "nice": false, "zero": false}, "axis": null}, "y": {"field": "t", "type": "quantitative", "scale": {"domain": [0, 10, 239.38], "range": [713, 495, 0], "nice": false, "zero": false}, "axis": null}, "y2": {"datum": 0}}},
    {"data": {"name": "tc"}, "mark": {"type": "area", "color": "#fde6c2", "opacity": 1},
     "encoding": {"x": {"field": "c", "type": "quantitative", "scale": {"domain": [5.511416, 5.526369], "nice": false, "zero": false}, "axis": null}, "y": {"field": "t", "type": "quantitative", "scale": {"domain": [0, 10, 239.38], "range": [713, 495, 0], "nice": false, "zero": false}, "axis": null}, "y2": {"datum": 0}}},
    {"data": {"name": "tc"}, "transform": [{"filter": "datum.c <= 5.524871"}], "mark": {"type": "line", "color": "#f5a316", "strokeWidth": 2.5},
     "encoding": {"x": {"field": "c", "type": "quantitative", "scale": {"domain": [5.511416, 5.526369], "nice": false, "zero": false}, "axis": null}, "y": {"field": "t", "type": "quantitative", "scale": {"domain": [0, 10, 239.38], "range": [713, 495, 0], "nice": false, "zero": false}, "axis": null}}},
    {"data": {"name": "tc"}, "transform": [{"filter": "datum.c >= 5.524859"}], "mark": {"type": "line", "color": "#f5a316", "strokeWidth": 3.5, "strokeDash": [4, 5]},
     "encoding": {"x": {"field": "c", "type": "quantitative", "scale": {"domain": [5.511416, 5.526369], "nice": false, "zero": false}, "axis": null}, "y": {"field": "t", "type": "quantitative", "scale": {"domain": [0, 10, 239.38], "range": [713, 495, 0], "nice": false, "zero": false}, "axis": null}}},
    {"data": {"values": [{"c":5.5137,"t":239.38,"t2":0},{"c":5.522833,"t":239.38,"t2":9.3}]}, "mark": {"type": "rule", "strokeDash": [6,5], "strokeWidth": 1.5, "color": "black"},
     "encoding": {"x": {"field": "c", "type": "quantitative", "scale": {"domain": [5.511416, 5.526369], "nice": false, "zero": false}, "axis": null}, "y": {"field": "t", "type": "quantitative", "scale": {"domain": [0, 10, 239.38], "range": [713, 495, 0], "nice": false, "zero": false}, "axis": null}, "y2": {"field": "t2"}}},
    {"data": {"values": [{"c":5.52285,"t":90.6},{"c":5.525288,"t":90.6}]}, "mark": {"type": "line", "color": "#1f4fff", "strokeWidth": 2.5, "strokeDash": [3, 6]},
     "encoding": {"x": {"field": "c", "type": "quantitative", "scale": {"domain": [5.511416, 5.526369], "nice": false, "zero": false}, "axis": null}, "y": {"field": "t", "type": "quantitative", "scale": {"domain": [0, 10, 239.38], "range": [713, 495, 0], "nice": false, "zero": false}, "axis": null}}},
    {"data": {"name": "tsbar"}, "mark": {"type": "rule", "color": "#1f4fff", "strokeWidth": 2},
     "encoding": {"x": {"field": "lo", "type": "quantitative", "scale": {"domain": [5.511416, 5.526369], "nice": false, "zero": false}, "axis": null}, "x2": {"field": "hi"}, "y": {"field": "t", "type": "quantitative", "scale": {"domain": [0, 10, 239.38], "range": [713, 495, 0], "nice": false, "zero": false}, "axis": null}}},
    {"data": {"name": "tsbar"}, "mark": {"type": "tick", "orient": "vertical", "size": 12, "thickness": 2, "color": "#1f4fff"},
     "encoding": {"x": {"field": "lo", "type": "quantitative", "scale": {"domain": [5.511416, 5.526369], "nice": false, "zero": false}, "axis": null}, "y": {"field": "t", "type": "quantitative", "scale": {"domain": [0, 10, 239.38], "range": [713, 495, 0], "nice": false, "zero": false}, "axis": null}}},
    {"data": {"name": "tsbar"}, "mark": {"type": "tick", "orient": "vertical", "size": 12, "thickness": 2, "color": "#1f4fff"},
     "encoding": {"x": {"field": "hi", "type": "quantitative", "scale": {"domain": [5.511416, 5.526369], "nice": false, "zero": false}, "axis": null}, "y": {"field": "t", "type": "quantitative", "scale": {"domain": [0, 10, 239.38], "range": [713, 495, 0], "nice": false, "zero": false}, "axis": null}}},
    {"data": {"name": "greenbar"}, "mark": {"type": "rule", "color": "#199a4c", "strokeWidth": 2.5},
     "encoding": {"x": {"field": "lo", "type": "quantitative", "scale": {"domain": [5.511416, 5.526369], "nice": false, "zero": false}, "axis": null}, "x2": {"field": "hi"}, "y": {"field": "t", "type": "quantitative", "scale": {"domain": [0, 10, 239.38], "range": [713, 495, 0], "nice": false, "zero": false}, "axis": null}}},
    {"data": {"name": "greenbar"}, "mark": {"type": "tick", "orient": "vertical", "size": 12, "thickness": 2.5, "color": "#199a4c"},
     "encoding": {"x": {"field": "lo", "type": "quantitative", "scale": {"domain": [5.511416, 5.526369], "nice": false, "zero": false}, "axis": null}, "y": {"field": "t", "type": "quantitative", "scale": {"domain": [0, 10, 239.38], "range": [713, 495, 0], "nice": false, "zero": false}, "axis": null}}},
    {"data": {"name": "greenbar"}, "mark": {"type": "tick", "orient": "vertical", "size": 12, "thickness": 2.5, "color": "#199a4c"},
     "encoding": {"x": {"field": "hi", "type": "quantitative", "scale": {"domain": [5.511416, 5.526369], "nice": false, "zero": false}, "axis": null}, "y": {"field": "t", "type": "quantitative", "scale": {"domain": [0, 10, 239.38], "range": [713, 495, 0], "nice": false, "zero": false}, "axis": null}}},
    {"data": {"name": "hid"}, "mark": {"type": "rule", "color": "#6e0606", "strokeWidth": 2.5},
     "encoding": {"x": {"field": "lo", "type": "quantitative", "scale": {"domain": [5.511416, 5.526369], "nice": false, "zero": false}, "axis": null}, "x2": {"field": "hi"}, "y": {"field": "t", "type": "quantitative", "scale": {"domain": [0, 10, 239.38], "range": [713, 495, 0], "nice": false, "zero": false}, "axis": null}}},
    {"data": {"name": "hid"}, "mark": {"type": "tick", "orient": "vertical", "size": 12, "thickness": 2.5, "color": "#6e0606"},
     "encoding": {"x": {"field": "lo", "type": "quantitative", "scale": {"domain": [5.511416, 5.526369], "nice": false, "zero": false}, "axis": null}, "y": {"field": "t", "type": "quantitative", "scale": {"domain": [0, 10, 239.38], "range": [713, 495, 0], "nice": false, "zero": false}, "axis": null}}},
    {"data": {"name": "hid"}, "mark": {"type": "tick", "orient": "vertical", "size": 12, "thickness": 2.5, "color": "#6e0606"},
     "encoding": {"x": {"field": "hi", "type": "quantitative", "scale": {"domain": [5.511416, 5.526369], "nice": false, "zero": false}, "axis": null}, "y": {"field": "t", "type": "quantitative", "scale": {"domain": [0, 10, 239.38], "range": [713, 495, 0], "nice": false, "zero": false}, "axis": null}}},
    {"data": {"name": "hid"}, "mark": {"type": "point", "shape": "square", "filled": false, "opacity": 1, "color": "#6e0606", "strokeWidth": 3, "size": 250},
     "encoding": {"x": {"field": "c", "type": "quantitative", "scale": {"domain": [5.511416, 5.526369], "nice": false, "zero": false}, "axis": null}, "y": {"field": "t", "type": "quantitative", "scale": {"domain": [0, 10, 239.38], "range": [713, 495, 0], "nice": false, "zero": false}, "axis": null}}},
    {"data": {"name": "hid"}, "mark": {"type": "point", "shape": "M-1,0L1,0M0,-1L0,1", "filled": false, "opacity": 1, "color": "#6e0606", "strokeWidth": 1.5, "size": 250},
     "encoding": {"x": {"field": "c", "type": "quantitative", "scale": {"domain": [5.511416, 5.526369], "nice": false, "zero": false}, "axis": null}, "y": {"field": "t", "type": "quantitative", "scale": {"domain": [0, 10, 239.38], "range": [713, 495, 0], "nice": false, "zero": false}, "axis": null}}},
    {"data": {"name": "greenpt"}, "mark": {"type": "point", "shape": "square", "filled": false, "opacity": 1, "color": "#199a4c", "strokeWidth": 3, "size": 250},
     "encoding": {"x": {"field": "c", "type": "quantitative", "scale": {"domain": [5.511416, 5.526369], "nice": false, "zero": false}, "axis": null}, "y": {"field": "t", "type": "quantitative", "scale": {"domain": [0, 10, 239.38], "range": [713, 495, 0], "nice": false, "zero": false}, "axis": null}}},
    {"data": {"name": "greenpt"}, "mark": {"type": "point", "shape": "M-1,0L1,0M0,-1L0,1", "filled": false, "opacity": 1, "color": "#199a4c", "strokeWidth": 1.5, "size": 250},
     "encoding": {"x": {"field": "c", "type": "quantitative", "scale": {"domain": [5.511416, 5.526369], "nice": false, "zero": false}, "axis": null}, "y": {"field": "t", "type": "quantitative", "scale": {"domain": [0, 10, 239.38], "range": [713, 495, 0], "nice": false, "zero": false}, "axis": null}}},
    {"data": {"name": "tspt"}, "mark": {"type": "point", "shape": "triangle-up", "filled": false, "opacity": 1, "color": "#1f4fff", "strokeWidth": 2, "size": 200},
     "encoding": {"x": {"field": "c", "type": "quantitative", "scale": {"domain": [5.511416, 5.526369], "nice": false, "zero": false}, "axis": null}, "y": {"field": "t", "type": "quantitative", "scale": {"domain": [0, 10, 239.38], "range": [713, 495, 0], "nice": false, "zero": false}, "axis": null}}},
    {"data": {"values": [{"c":5.5137,"t":1.74,"t2":1.0},{"c":5.522833,"t":1.74,"t2":1.1}]}, "mark": {"type": "rule", "strokeWidth": 4, "color": "black"},
     "encoding": {"x": {"field": "c", "type": "quantitative", "scale": {"domain": [5.511416, 5.526369], "nice": false, "zero": false}, "axis": null}, "y": {"field": "t", "type": "quantitative", "scale": {"domain": [0, 10, 239.38], "range": [713, 495, 0], "nice": false, "zero": false}, "axis": null}, "y2": {"field": "t2"}}},
    {"data": {"values": [{"c":5.5137,"t":0.69},{"c":5.522833,"t":0.83}]}, "mark": {"type": "point", "shape": "triangle-down", "filled": true, "opacity": 1, "color": "black", "size": 260},
     "encoding": {"x": {"field": "c", "type": "quantitative", "scale": {"domain": [5.511416, 5.526369], "nice": false, "zero": false}, "axis": null}, "y": {"field": "t", "type": "quantitative", "scale": {"domain": [0, 10, 239.38], "range": [713, 495, 0], "nice": false, "zero": false}, "axis": null}}},
    {"data": {"values": [{"c":5.511639,"t":166.2,"s":"HID Fe"},{"c":5.511639,"t":149.5,"s":"(H9 to H0, see fig. caption)"},{"c":5.511639,"t":91.6,"s":"CVT FeSe"},{"c":5.511639,"t":76.3,"s":"(C8.6, refs. 31 and 40)"},{"c":5.513459,"t":166.2,"s":"Se"}]}, "mark": {"type": "text", "align": "left", "baseline": "alphabetic", "fontSize": 27, "clip": false},
     "encoding": {"x": {"field": "c", "type": "quantitative", "scale": {"domain": [5.511416, 5.526369], "nice": false, "zero": false}, "axis": null}, "y": {"field": "t", "type": "quantitative", "scale": {"domain": [0, 10, 239.38], "range": [713, 495, 0], "nice": false, "zero": false}, "axis": null}, "text": {"field": "s"}}},
    {"data": {"values": [{"c":5.513047,"t":163.4,"s":"1-"}]}, "mark": {"type": "text", "align": "left", "baseline": "alphabetic", "fontSize": 18, "clip": false},
     "encoding": {"x": {"field": "c", "type": "quantitative", "scale": {"domain": [5.511416, 5.526369], "nice": false, "zero": false}, "axis": null}, "y": {"field": "t", "type": "quantitative", "scale": {"domain": [0, 10, 239.38], "range": [713, 495, 0], "nice": false, "zero": false}, "axis": null}, "text": {"field": "s"}}},
    {"data": {"values": [{"c":5.513305,"t":163.4,"s":"x"}]}, "mark": {"type": "text", "align": "left", "baseline": "alphabetic", "fontSize": 18, "fontStyle": "italic", "clip": false},
     "encoding": {"x": {"field": "c", "type": "quantitative", "scale": {"domain": [5.511416, 5.526369], "nice": false, "zero": false}, "axis": null}, "y": {"field": "t", "type": "quantitative", "scale": {"domain": [0, 10, 239.38], "range": [713, 495, 0], "nice": false, "zero": false}, "axis": null}, "text": {"field": "s"}}},
    {"data": {"values": [{"c":5.522455,"t":151.3,"s":"Tetragonal"}]}, "mark": {"type": "text", "align": "center", "baseline": "middle", "fontSize": 40, "fontStyle": "italic", "clip": false},
     "encoding": {"x": {"field": "c", "type": "quantitative", "scale": {"domain": [5.511416, 5.526369], "nice": false, "zero": false}, "axis": null}, "y": {"field": "t", "type": "quantitative", "scale": {"domain": [0, 10, 239.38], "range": [713, 495, 0], "nice": false, "zero": false}, "axis": null}, "text": {"field": "s"}}},
    {"data": {"values": [{"c":5.524172,"t":75.3,"s":"Ortho."}]}, "mark": {"type": "text", "align": "center", "baseline": "middle", "fontSize": 34, "fontStyle": "italic", "clip": false},
     "encoding": {"x": {"field": "c", "type": "quantitative", "scale": {"domain": [5.511416, 5.526369], "nice": false, "zero": false}, "axis": null}, "y": {"field": "t", "type": "quantitative", "scale": {"domain": [0, 10, 239.38], "range": [713, 495, 0], "nice": false, "zero": false}, "axis": null}, "text": {"field": "s"}}},
    {"data": {"values": [{"c":5.520859,"t":35.9,"s":"h-dominant"},{"c":5.524275,"t":35.5,"s":"e-domi."}]}, "mark": {"type": "text", "align": "center", "baseline": "middle", "fontSize": 30, "fontWeight": "bold", "color": "white", "clip": false},
     "encoding": {"x": {"field": "c", "type": "quantitative", "scale": {"domain": [5.511416, 5.526369], "nice": false, "zero": false}, "axis": null}, "y": {"field": "t", "type": "quantitative", "scale": {"domain": [0, 10, 239.38], "range": [713, 495, 0], "nice": false, "zero": false}, "axis": null}, "text": {"field": "s"}}},
    {"data": {"values": [{"c":5.521768,"t":4.54,"s":"SC"}]}, "mark": {"type": "text", "align": "center", "baseline": "middle", "fontSize": 42, "clip": false},
     "encoding": {"x": {"field": "c", "type": "quantitative", "scale": {"domain": [5.511416, 5.526369], "nice": false, "zero": false}, "axis": null}, "y": {"field": "t", "type": "quantitative", "scale": {"domain": [0, 10, 239.38], "range": [713, 495, 0], "nice": false, "zero": false}, "axis": null}, "text": {"field": "s"}}},
    {"data": {"values": [{"c":5.512584,"t":7.61,"s":"non-SC"}]}, "mark": {"type": "text", "align": "center", "baseline": "middle", "angle": 270, "fontSize": 42, "clip": false},
     "encoding": {"x": {"field": "c", "type": "quantitative", "scale": {"domain": [5.511416, 5.526369], "nice": false, "zero": false}, "axis": null}, "y": {"field": "t", "type": "quantitative", "scale": {"domain": [0, 10, 239.38], "range": [713, 495, 0], "nice": false, "zero": false}, "axis": null}, "text": {"field": "s"}}},
    {"data": {"values": [{"c":5.51382,"t":1.514,"s":"c"},{"c":5.522833,"t":1.88,"s":"c"},{"c":5.525597,"t":84.1,"s":"T"},{"c":5.525665,"t":6.83,"s":"T"},{"c":5.527313,"t":16.02,"s":"R"},{"c":5.528069,"t":16.02,"s":"T"}]}, "mark": {"type": "text", "align": "left", "baseline": "alphabetic", "fontSize": 36, "fontStyle": "italic", "clip": false},
     "encoding": {"x": {"field": "c", "type": "quantitative", "scale": {"domain": [5.511416, 5.526369], "nice": false, "zero": false}, "axis": null}, "y": {"field": "t", "type": "quantitative", "scale": {"domain": [0, 10, 239.38], "range": [713, 495, 0], "nice": false, "zero": false}, "axis": null}, "text": {"field": "s"}}},
    {"data": {"values": [{"c":5.514146,"t":1.284,"s":"sc"},{"c":5.52309,"t":1.79,"s":"h/e"},{"c":5.525871,"t":81.8,"s":"s"},{"c":5.525923,"t":6.56,"s":"c"},{"c":5.527674,"t":12.78,"s":"H"}]}, "mark": {"type": "text", "align": "left", "baseline": "alphabetic", "fontSize": 22, "clip": false},
     "encoding": {"x": {"field": "c", "type": "quantitative", "scale": {"domain": [5.511416, 5.526369], "nice": false, "zero": false}, "axis": null}, "y": {"field": "t", "type": "quantitative", "scale": {"domain": [0, 10, 239.38], "range": [713, 495, 0], "nice": false, "zero": false}, "axis": null}, "text": {"field": "s"}}},
    {"data": {"values": [{"c":5.52788,"t":16.02,"s":"("},{"c":5.528447,"t":16.02,"s":")"}]}, "mark": {"type": "text", "align": "left", "baseline": "alphabetic", "fontSize": 36, "clip": false},
     "encoding": {"x": {"field": "c", "type": "quantitative", "scale": {"domain": [5.511416, 5.526369], "nice": false, "zero": false}, "axis": null}, "y": {"field": "t", "type": "quantitative", "scale": {"domain": [0, 10, 239.38], "range": [713, 495, 0], "nice": false, "zero": false}, "axis": null}, "text": {"field": "s"}}},
    {"data": {"values": [{"c":5.510558,"t":78.6,"s":"T"}]}, "mark": {"type": "text", "align": "left", "baseline": "alphabetic", "angle": 270, "fontSize": 40, "fontStyle": "italic", "clip": false},
     "encoding": {"x": {"field": "c", "type": "quantitative", "scale": {"domain": [5.511416, 5.526369], "nice": false, "zero": false}, "axis": null}, "y": {"field": "t", "type": "quantitative", "scale": {"domain": [0, 10, 239.38], "range": [713, 495, 0], "nice": false, "zero": false}, "axis": null}, "text": {"field": "s"}}},
    {"data": {"values": [{"c":5.510558,"t":99.4,"s":"(K)"}]}, "mark": {"type": "text", "align": "left", "baseline": "alphabetic", "angle": 270, "fontSize": 40, "clip": false},
     "encoding": {"x": {"field": "c", "type": "quantitative", "scale": {"domain": [5.511416, 5.526369], "nice": false, "zero": false}, "axis": null}, "y": {"field": "t", "type": "quantitative", "scale": {"domain": [0, 10, 239.38], "range": [713, 495, 0], "nice": false, "zero": false}, "axis": null}, "text": {"field": "s"}}},
    {"data": {"values": [{"c":5.516137,"t":-3.9,"s":"Lattice constant"},{"c":5.521219,"t":-3.9,"s":"(Å)"}]}, "mark": {"type": "text", "align": "left", "baseline": "alphabetic", "fontSize": 40, "clip": false},
     "encoding": {"x": {"field": "c", "type": "quantitative", "scale": {"domain": [5.511416, 5.526369], "nice": false, "zero": false}, "axis": null}, "y": {"field": "t", "type": "quantitative", "scale": {"domain": [0, 10, 239.38], "range": [713, 495, 0], "nice": false, "zero": false}, "axis": null}, "text": {"field": "s"}}},
    {"data": {"values": [{"c":5.520738,"t":-3.9,"s":"c"}]}, "mark": {"type": "text", "align": "left", "baseline": "alphabetic", "fontSize": 40, "fontStyle": "italic", "clip": false},
     "encoding": {"x": {"field": "c", "type": "quantitative", "scale": {"domain": [5.511416, 5.526369], "nice": false, "zero": false}, "axis": null}, "y": {"field": "t", "type": "quantitative", "scale": {"domain": [0, 10, 239.38], "range": [713, 495, 0], "nice": false, "zero": false}, "axis": null}, "text": {"field": "s"}}},
    {"data": {"values": [{"c":5.511914,"t":185.6}]}, "mark": {"type": "point", "shape": "square", "filled": true, "opacity": 1, "color": "#f01414", "size": 320},
     "encoding": {"x": {"field": "c", "type": "quantitative", "scale": {"domain": [5.511416, 5.526369], "nice": false, "zero": false}, "axis": null}, "y": {"field": "t", "type": "quantitative", "scale": {"domain": [0, 10, 239.38], "range": [713, 495, 0], "nice": false, "zero": false}, "axis": null}}},
    {"data": {"values": [{"c":5.512567,"t":185.6}]}, "mark": {"type": "point", "shape": "square", "filled": false, "opacity": 1, "color": "#6e0606", "strokeWidth": 3, "size": 300},
     "encoding": {"x": {"field": "c", "type": "quantitative", "scale": {"domain": [5.511416, 5.526369], "nice": false, "zero": false}, "axis": null}, "y": {"field": "t", "type": "quantitative", "scale": {"domain": [0, 10, 239.38], "range": [713, 495, 0], "nice": false, "zero": false}, "axis": null}}},
    {"data": {"values": [{"c":5.511897,"t":110.1}]}, "mark": {"type": "point", "shape": "square", "filled": true, "opacity": 1, "color": "#1f4fff", "size": 340},
     "encoding": {"x": {"field": "c", "type": "quantitative", "scale": {"domain": [5.511416, 5.526369], "nice": false, "zero": false}, "axis": null}, "y": {"field": "t", "type": "quantitative", "scale": {"domain": [0, 10, 239.38], "range": [713, 495, 0], "nice": false, "zero": false}, "axis": null}}},
    {"data": {"values": [{"c":5.512567,"t":110.1}]}, "mark": {"type": "point", "shape": "triangle-up", "filled": false, "opacity": 1, "color": "#1f4fff", "strokeWidth": 3, "size": 300},
     "encoding": {"x": {"field": "c", "type": "quantitative", "scale": {"domain": [5.511416, 5.526369], "nice": false, "zero": false}, "axis": null}, "y": {"field": "t", "type": "quantitative", "scale": {"domain": [0, 10, 239.38], "range": [713, 495, 0], "nice": false, "zero": false}, "axis": null}}},
    {"data": {"values": [{"c":5.513236,"t":110.1}]}, "mark": {"type": "point", "shape": "square", "filled": false, "opacity": 1, "color": "#199a4c", "strokeWidth": 3.5, "size": 300},
     "encoding": {"x": {"field": "c", "type": "quantitative", "scale": {"domain": [5.511416, 5.526369], "nice": false, "zero": false}, "axis": null}, "y": {"field": "t", "type": "quantitative", "scale": {"domain": [0, 10, 239.38], "range": [713, 495, 0], "nice": false, "zero": false}, "axis": null}}},
    {"data": {"values": [{"t": 0}]}, "mark": {"type": "text", "text": ""},
     "encoding": {"y": {"field": "t", "type": "quantitative", "scale": {"domain": [0, 10, 239.38], "range": [713, 495, 0], "nice": false, "zero": false},
       "axis": {"orient": "right", "values": [0,1,2,3,4,5,6,7,8,9,10,20,30,40,50,60,70,80,90,100,110,120,130,140,150,160,170,180,190,200,210,220,230], "labelExpr": "indexof([0,5,10,50,100,150,200], datum.value) >= 0 ? datum.label : ''", "tickSize": {"condition": {"test": "indexof([0,5,10,50,100,150,200], datum.value) >= 0", "value": -10}, "value": -5}, "labelPadding": 16, "title": null}}}}
  ],
  "resolve": {"axis": {"x": "independent", "y": "independent"}}
}
]
}
